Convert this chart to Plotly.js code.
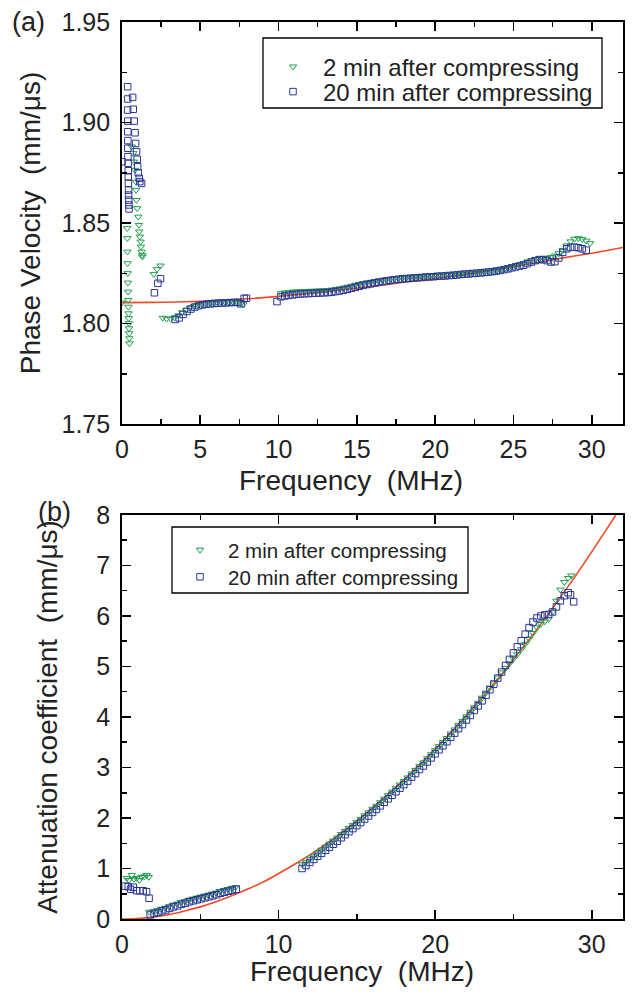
<!DOCTYPE html>
<html>
<head>
<meta charset="utf-8">
<script src="https://cdn.plot.ly/plotly-3.0.1.min.js"></script>
<style>html,body{margin:0;padding:0;background:#fff;}#chart{width:634px;height:994px;}</style>
</head>
<body>
<div id="chart"></div>
<script>
// ---------- DATA ----------
var seriesNames = ["2 min after compressing", "20 min after compressing"];
var xTitle = "Frequency\u00a0\u00a0(MHz)";
var yTitleA = "Phase Velocity\u00a0\u00a0(mm/μs)";
var yTitleB = "Attenuation coefficient\u00a0\u00a0(mm/μs)";
var panelLabels = ["(a)", "(b)"];

// (a) Phase velocity, 2 min after compressing
var velF2 = [0,
  0.33,0.34,0.35,0.36,0.37,0.38,0.39,0.40,0.41,0.42,0.43,0.44,0.45,0.46,0.47,0.48,
  0.62,0.72,0.76,0.83,0.89,0.90,0.93,0.97,1.04,1.08,1.10,1.14,1.19,1.21,1.25,1.29,1.30,
  2.03,2.24,2.46,
  2.60,2.85,3.10,3.35,3.60,3.85,4.10,4.35,4.60,4.85,5.10,5.35,5.60,5.85,6.10,6.35,6.60,6.85,7.10,7.35,7.60,7.75,
  10.15,10.40,10.65,10.90,11.15,11.40,11.65,11.90,12.15,12.40,12.65,12.90,13.15,13.40,13.65,13.90,14.15,14.40,14.65,14.90,
  15.15,15.40,15.65,15.90,16.15,16.40,16.65,16.90,17.15,17.40,17.65,17.90,18.15,18.40,18.65,18.90,19.15,19.40,19.65,19.90,
  20.15,20.40,20.65,20.90,21.15,21.40,21.65,21.90,22.15,22.40,22.65,22.90,23.15,23.40,23.65,23.90,24.15,24.40,24.65,24.90,
  25.15,25.40,25.65,25.90,26.15,26.40,26.65,26.90,27.15,27.40,27.65,27.90,28.15,28.40,28.65,28.90,29.15,29.40,29.65,29.90];
var velV2 = [1.8104,
  1.8474,1.8424,1.8357,1.8299,1.8250,1.8203,1.8158,1.8117,1.8083,1.8050,1.8026,1.8001,1.7976,1.7951,1.7926,1.7901,
  1.8880,1.8847,1.8805,1.8764,1.8705,1.8664,1.8614,1.8573,1.8531,1.8490,1.8457,1.8432,1.8407,1.8382,1.8357,1.8341,1.8332,
  1.8246,1.8270,1.8288,
  1.8028,1.8024,1.8024,1.8030,1.8040,1.8055,1.8068,1.8078,1.8086,1.8092,1.8096,1.8099,1.8101,1.8103,1.8104,1.8105,1.8106,1.8106,1.8106,1.8105,1.8100,1.8095,
  1.8150,1.8154,1.8156,1.8158,1.8159,1.8160,1.8161,1.8162,1.8162,1.8163,1.8164,1.8165,1.8166,1.8168,1.8171,1.8174,1.8178,1.8182,1.8187,1.8192,
  1.8196,1.8200,1.8204,1.8207,1.8210,1.8213,1.8216,1.8219,1.8221,1.8223,1.8225,1.8227,1.8228,1.8229,1.8230,1.8231,1.8232,1.8234,1.8235,1.8236,
  1.8237,1.8238,1.8239,1.8241,1.8242,1.8243,1.8245,1.8247,1.8248,1.8250,1.8251,1.8253,1.8255,1.8257,1.8259,1.8262,1.8266,1.8270,1.8276,1.8282,
  1.8288,1.8294,1.8300,1.8308,1.8314,1.8319,1.8322,1.8324,1.8326,1.8330,1.8337,1.8349,1.8364,1.8388,1.8408,1.8421,1.8424,1.8419,1.8412,1.8399];

// (a) Phase velocity, 20 min after compressing
var velF20 = [0,
  0.36,0.36,0.36,0.37,0.37,0.37,0.37,0.38,0.39,0.40,0.40,0.41,0.42,0.42,0.43,0.44,0.45,
  0.68,0.72,0.78,0.83,0.87,0.93,0.97,1.00,1.04,1.10,1.14,1.25,
  2.07,2.29,2.46,
  3.40,3.65,3.90,4.15,4.40,4.65,4.90,5.15,5.40,5.65,5.90,6.15,6.40,6.65,6.90,7.15,7.40,7.60,7.80,7.95,
  9.90,
  10.15,10.40,10.65,10.90,11.15,11.40,11.65,11.90,12.15,12.40,12.65,12.90,13.15,13.40,13.65,13.90,14.15,14.40,14.65,14.90,
  15.15,15.40,15.65,15.90,16.15,16.40,16.65,16.90,17.15,17.40,17.65,17.90,18.15,18.40,18.65,18.90,19.15,19.40,19.65,19.90,
  20.15,20.40,20.65,20.90,21.15,21.40,21.65,21.90,22.15,22.40,22.65,22.90,23.15,23.40,23.65,23.90,24.15,24.40,24.65,24.90,
  25.15,25.40,25.65,25.90,26.15,26.40,26.65,26.90,27.15,27.40,27.65,27.90,28.15,28.40,28.65,28.90,29.15,29.40,29.65];
var velV20 = [1.8805,
  1.9178,1.9117,1.9062,1.9007,1.8954,1.8910,1.8872,1.8830,1.8797,1.8760,1.8730,1.8697,1.8664,1.8639,1.8614,1.8590,1.8570,
  1.9125,1.9066,1.9007,1.8949,1.8896,1.8855,1.8817,1.8780,1.8750,1.8722,1.8706,1.8697,
  1.8153,1.8200,1.8223,
  1.8020,1.8028,1.8045,1.8060,1.8072,1.8082,1.8089,1.8093,1.8096,1.8098,1.8100,1.8101,1.8102,1.8103,1.8104,1.8105,1.8105,1.8098,1.8125,1.8126,
  1.8109,
  1.8133,1.8137,1.8140,1.8143,1.8145,1.8147,1.8148,1.8149,1.8150,1.8151,1.8152,1.8153,1.8154,1.8156,1.8159,1.8162,1.8166,1.8170,1.8175,1.8180,
  1.8185,1.8190,1.8194,1.8198,1.8202,1.8206,1.8209,1.8212,1.8215,1.8218,1.8220,1.8222,1.8224,1.8225,1.8227,1.8228,1.8229,1.8231,1.8232,1.8233,
  1.8235,1.8236,1.8237,1.8239,1.8240,1.8242,1.8244,1.8246,1.8247,1.8249,1.8250,1.8252,1.8254,1.8256,1.8258,1.8261,1.8264,1.8268,1.8272,1.8277,
  1.8282,1.8286,1.8290,1.8298,1.8306,1.8313,1.8318,1.8318,1.8313,1.8306,1.8308,1.8326,1.8354,1.8372,1.8379,1.8380,1.8377,1.8372,1.8365];

// (a) fitted curve
var fitVelF = [0,2,4,6,8,10,12,14,16,18,20,22,24,26,28,30,32];
var fitVelV = [1.8104,1.8105,1.8108,1.8114,1.8123,1.8135,1.8150,1.8167,1.8185,1.8205,1.8224,1.8245,1.8270,1.8296,1.8324,1.8350,1.8378];

// (b) Attenuation, 2 min after compressing
var attF2 = [0.30,0.46,0.62,0.76,0.93,1.10,1.25,1.42,1.57,1.71,
  1.75,2.00,2.25,2.50,2.75,3.00,3.25,3.50,3.75,4.00,4.25,4.50,4.75,5.00,5.25,5.50,5.75,6.00,6.25,6.50,6.75,7.00,7.25,
  11.50,11.75,12.00,12.25,12.50,12.75,13.00,13.25,13.50,13.75,14.00,14.25,14.50,14.75,15.00,15.25,15.50,15.75,16.00,16.25,
  16.50,16.75,17.00,17.25,17.50,17.75,18.00,18.25,18.50,18.75,19.00,19.25,19.50,19.75,20.00,20.25,20.50,20.75,21.00,21.25,
  21.50,21.75,22.00,22.25,22.50,22.75,23.00,23.25,23.50,23.75,24.00,24.25,24.50,24.75,25.00,25.25,25.50,25.75,26.00,26.25,
  26.50,26.75,27.00,27.25,27.50,27.75,28.00,28.25,28.50,28.70];
var attA2 = [0.81,0.77,0.87,0.79,0.81,0.77,0.83,0.84,0.87,0.83,
  0.14,0.15,0.17,0.20,0.22,0.25,0.28,0.30,0.33,0.35,0.38,0.40,0.42,0.44,0.46,0.48,0.50,0.52,0.55,0.57,0.59,0.61,0.63,
  1.08,1.13,1.19,1.25,1.31,1.37,1.43,1.49,1.55,1.61,1.68,1.74,1.80,1.86,1.92,1.98,2.05,2.11,2.18,2.24,
  2.31,2.38,2.45,2.52,2.59,2.66,2.73,2.80,2.88,2.95,3.03,3.10,3.18,3.26,3.34,3.42,3.50,3.58,3.67,3.75,
  3.84,3.92,4.01,4.10,4.19,4.28,4.38,4.48,4.58,4.68,4.78,4.88,4.97,5.06,5.15,5.24,5.34,5.44,5.55,5.66,
  5.77,5.84,5.89,5.94,6.08,6.30,6.52,6.67,6.75,6.80];

// (b) Attenuation, 20 min after compressing
var attF20 = [0.20,0.40,0.55,0.72,0.93,1.14,1.35,1.57,1.73,
  1.80,2.05,2.30,2.55,2.80,3.05,3.30,3.55,3.80,4.05,4.30,4.55,4.80,5.05,5.30,5.55,5.80,6.05,6.30,6.55,6.80,7.05,7.30,
  11.50,11.75,12.00,12.25,12.50,12.75,13.00,13.25,13.50,13.75,14.00,14.25,14.50,14.75,15.00,15.25,15.50,15.75,16.00,16.25,
  16.50,16.75,17.00,17.25,17.50,17.75,18.00,18.25,18.50,18.75,19.00,19.25,19.50,19.75,20.00,20.25,20.50,20.75,21.00,21.25,
  21.50,21.75,22.00,22.25,22.50,22.75,23.00,23.25,23.50,23.75,24.00,24.25,24.50,24.75,25.00,25.25,25.50,25.75,26.00,26.25,
  26.50,26.75,27.00,27.25,27.50,27.75,28.00,28.25,28.50,28.65,28.85];
var attA20 = [0.65,0.64,0.59,0.63,0.56,0.56,0.56,0.54,0.41,
  0.08,0.11,0.13,0.16,0.18,0.21,0.24,0.26,0.29,0.31,0.34,0.36,0.38,0.40,0.42,0.44,0.46,0.48,0.51,0.53,0.55,0.57,0.59,
  1.00,1.06,1.12,1.18,1.24,1.30,1.36,1.42,1.48,1.54,1.61,1.67,1.73,1.79,1.85,1.91,1.98,2.04,2.11,2.17,
  2.24,2.31,2.38,2.45,2.52,2.59,2.66,2.73,2.81,2.88,2.96,3.03,3.11,3.19,3.27,3.35,3.43,3.51,3.60,3.68,
  3.77,3.85,3.94,4.03,4.13,4.22,4.32,4.43,4.54,4.65,4.77,4.89,5.02,5.14,5.27,5.39,5.51,5.64,5.77,5.88,
  5.96,6.00,6.02,6.03,6.08,6.18,6.30,6.40,6.46,6.42,6.28];

// (b) fitted curve
var fitAttF = [0,1,2,3,4,5,6,7,8,9,10,11,12,13,14,15,16,17,18,19,20,21,22,23,24,25,26,27,28,29,30,31,32];
var fitAttA = [0,0.01,0.04,0.09,0.16,0.24,0.34,0.46,0.59,0.73,0.90,1.08,1.27,1.48,1.70,1.94,2.20,2.47,2.75,3.05,3.36,3.69,4.03,4.38,4.75,5.14,5.53,5.94,6.37,6.81,7.27,7.74,8.22];

// ---------- STYLE ----------
var FONT = "Liberation Sans, Arial, Helvetica, sans-serif";
var GREEN = "#1f9e4c";
var BLUE = "#2b3594";
var RED = "#f04a24";

function mk(x, y, name, sym, col, xa, ya, leg) {
  return {x: x, y: y, type: "scatter", mode: "markers", name: name,
    xaxis: xa, yaxis: ya, legend: leg,
    marker: {symbol: sym, size: 6.5, color: col, line: {color: col, width: 1}}};
}
function fit(x, y, xa, ya) {
  return {x: x, y: y, type: "scatter", mode: "lines", showlegend: false,
    xaxis: xa, yaxis: ya, line: {color: RED, width: 1.6, shape: "spline"}, hoverinfo: "skip"};
}

var traces = [
  fit(fitVelF, fitVelV, "x", "y"),
  mk(velF2, velV2, seriesNames[0], "triangle-down-open", GREEN, "x", "y", "legend"),
  mk(velF20, velV20, seriesNames[1], "square-open", BLUE, "x", "y", "legend2"),
  fit(fitAttF, fitAttA, "x2", "y2"),
  mk(attF2, attA2, seriesNames[0], "triangle-down-open", GREEN, "x2", "y2", "legend3"),
  mk(attF20, attA20, seriesNames[1], "square-open", BLUE, "x2", "y2", "legend4")
];

var TICKFONT = {family: FONT, size: 25, color: "#222"};
var TITLEFONT = {family: FONT, size: 28, color: "#222"};
function axisBase() {
  return {showline: true, linecolor: "#000", linewidth: 1.8, mirror: "allticks",
    ticks: "inside", ticklen: 9, tickwidth: 1.8, tickcolor: "#000",
    showgrid: false, zeroline: false, tickfont: TICKFONT, automargin: false};
}
function minor(d) { return {dtick: d, ticklen: 5, tickwidth: 1.5, ticks: "inside", tickcolor: "#000"}; }

var xa = axisBase(); Object.assign(xa, {domain: [0, 1], range: [0, 32], anchor: "y", dtick: 5, tick0: 0,
  minor: minor(2.5), ticklabelstandoff: 2});
var ya = axisBase(); Object.assign(ya, {domain: [0.5518, 1], range: [1.75, 1.95], anchor: "x", dtick: 0.05, tick0: 1.75,
  tickformat: ".2f", minor: minor(0.025), ticklabelstandoff: 5,
  title: {text: yTitleA, font: TITLEFONT, standoff: 13}});
var xa2 = axisBase(); Object.assign(xa2, {domain: [0, 1], range: [0, 32], anchor: "y2", dtick: 10, tick0: 0,
  minor: minor(5), ticklabelstandoff: 2});
var ya2 = axisBase(); Object.assign(ya2, {domain: [0, 0.4504], range: [0, 8], anchor: "x2", dtick: 1, tick0: 0,
  minor: minor(0.5), ticklabelstandoff: 5,
  title: {text: yTitleB, font: TITLEFONT, standoff: 30}});

// pixel helpers for paper coords (plot area: x 122..623, y 22..919)
function px(x) { return (x - 122) / 501; }
function py(y) { return (919 - y) / 897; }
function leg(x, y, size, iw) {
  return {x: px(x), y: py(y), xanchor: "left", yanchor: "middle", bgcolor: "rgba(0,0,0,0)",
    borderwidth: 0, itemwidth: iw, font: {family: FONT, size: size, color: "#222"}};
}
function label(text, x, y, size) {
  return {text: text, xref: "paper", yref: "paper", x: px(x), y: py(y), xanchor: "center", yanchor: "middle",
    showarrow: false, font: {family: FONT, size: size, color: "#222"}};
}

var layout = {
  width: 634, height: 994,
  margin: {l: 122, r: 11, t: 22, b: 75},
  paper_bgcolor: "#fff", plot_bgcolor: "#fff",
  font: {family: FONT, color: "#222"},
  xaxis: xa, yaxis: ya, xaxis2: xa2, yaxis2: ya2,
  legend: leg(263, 67, 24, 50),
  legend2: leg(263, 92, 24, 50),
  legend3: leg(172, 550, 20.5, 46),
  legend4: leg(172, 577, 20.5, 46),
  shapes: [
    {type: "rect", xref: "paper", yref: "paper", x0: px(263), x1: px(602), y0: py(108), y1: py(38),
      line: {color: "#000", width: 1.3}},
    {type: "rect", xref: "paper", yref: "paper", x0: px(172), x1: px(468), y0: py(593), y1: py(527),
      line: {color: "#000", width: 1.3}}
  ],
  annotations: [
    label(panelLabels[0], 28, 22, 27),
    label(panelLabels[1], 54, 512, 27),
    label(xTitle, 351, 480, 28),
    label(xTitle, 362, 971, 28)
  ],
  showlegend: true
};

Plotly.newPlot("chart", traces, layout, {staticPlot: true, displayModeBar: false});
</script>
</body>
</html>
